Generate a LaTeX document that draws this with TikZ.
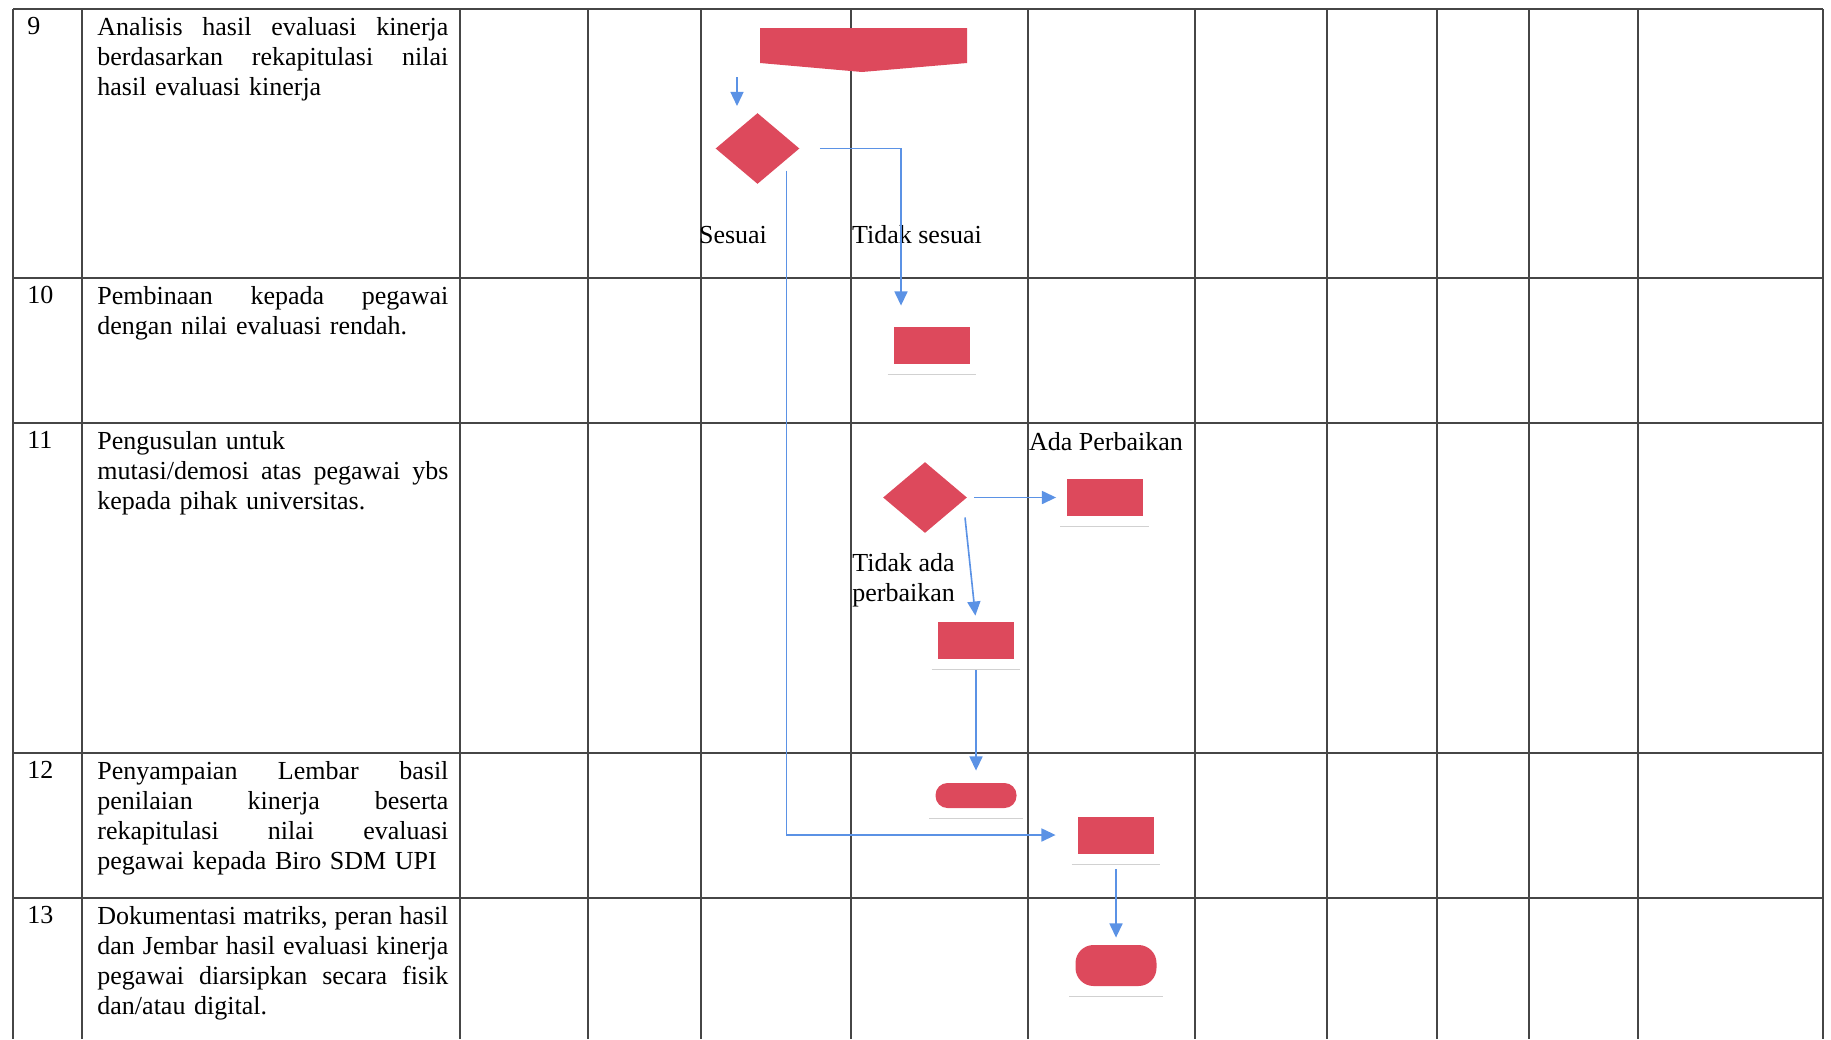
\documentclass[tikz,border=0pt]{standalone}
\usepackage{fontspec}
\setmainfont{Liberation Serif}
\usetikzlibrary{shapes.geometric}
\usetikzlibrary{arrows.meta}
\def\myunit{0.01622cm}
\def\mytextw{5.693cm}
\definecolor{flowred}{RGB}{221,73,92}
\definecolor{flowblue}{RGB}{91,146,229}
\definecolor{gridline}{RGB}{70,70,70}
\newcommand\myjust[1]{\makebox[\mytextw][s]{\spaceskip=0.25em plus 1fil\relax #1}\\}
\tikzset{
semithick, % All lines semithick
>={Triangle[length=6.5pt,width=6pt]}, % filled arrow tips
my font/.style={font=\fontsize{12}{13.85}\selectfont},
grid/.style={draw=gridline,line width=0.9pt},
desc/.style={my font,anchor=north west,inner sep=0pt,text width=\mytextw},
num/.style={my font,anchor=north west,inner sep=0pt},
lbl/.style={my font,inner sep=0pt},
box/.style={rectangle,fill=flowred,inner sep=0pt,minimum width=76*\myunit,minimum height=37*\myunit},
dec/.style={diamond,fill=flowred,inner sep=0pt,minimum width=84*\myunit,minimum height=71*\myunit},
term/.style={box,rounded corners=12*\myunit,minimum width=81*\myunit,minimum height=25*\myunit},
flow/.style={color=flowblue,line width=0.75pt,->},
reflect/.style={draw=black!18,line width=0.4pt}
}

\begin{document}
\begin{tikzpicture}[x=\myunit,y=-\myunit]
\useasboundingbox (0,0) rectangle (1831,1039);

% table
\foreach \x in {13,82,460,588,701,851,1028,1195,1327,1437,1529,1638,1823}
  \draw[grid] (\x,9) -- (\x,1039);
\foreach \y in {9,278,423,753,898}
  \draw[grid] (13,\y) -- (1823,\y);

\node[num] (n9)  at (27,17)  {9};
\node[num] (n10) at (27,286) {10};
\node[num] (n11) at (27,431) {11};
\node[num] (n12) at (27,761) {12};
\node[num] (n13) at (27,906) {13};

\node[desc] (s9)  at (97,17)  {\myjust{Analisis hasil evaluasi kinerja}\myjust{berdasarkan rekapitulasi nilai}hasil evaluasi kinerja};
\node[desc] (s10) at (97,286) {\myjust{Pembinaan kepada pegawai}dengan nilai evaluasi rendah.};
\node[desc] (s11) at (97,431) {Pengusulan untuk\\\myjust{mutasi/demosi atas pegawai ybs}kepada pihak universitas.};
\node[desc] (s12) at (97,761) {\myjust{Penyampaian Lembar basil}\myjust{penilaian kinerja beserta}\myjust{rekapitulasi nilai evaluasi}pegawai kepada Biro SDM UPI};
\node[desc] (s13) at (97,906) {\myjust{Dokumentasi matriks, peran hasil}\myjust{dan Jembar hasil evaluasi kinerja}\myjust{pegawai diarsipkan secara fisik}dan/atau digital.};

% flow
\fill[flowred] (760,28) -- (967,28) -- (967,63) -- (862,72) -- (760,63) -- cycle;
\coordinate (a0) at (737,77);
\coordinate (a1) at (737,106);

\node[dec]  (d1)   at (757.5,148.5) {};
\node[box]  (b10)  at (932,345.5)   {};
\node[dec]  (d2)   at (925,497.5)   {};
\node[box]  (b11a) at (1104.5,497.5) {};
\node[box]  (b11b) at (976,640.5)   {};
\node[term] (t12)  at (976,795.5)   {};
\node[box]  (b12)  at (1116,835)    {};
\node[term,minimum height=41*\myunit,rounded corners=18*\myunit] (t13) at (1116,965.5) {};

\node[lbl] (l1) at (733,235)  {Sesuai};
\node[lbl] (l2) at (917,235)  {Tidak sesuai};
\node[lbl] (l3) at (1106,442) {Ada Perbaikan};
\node[lbl,anchor=north west,align=left] (l4) at (852,553) {Tidak ada\\perbaikan};

\foreach \n in {b10,b11a,b11b,b12,t12,t13}
  \draw[reflect] ([shift={(-6,10)}]\n.south west) -- ([shift={(6,10)}]\n.south east);

\draw[flow] (a0) -- (a1);
\draw[flow,shorten <=20*\myunit,shorten >=21*\myunit] (d1.east) -| ([xshift=-31*\myunit]b10.north);
\draw[flow,shorten >=22*\myunit] ([shift={(29,22)}]d1.center) |- (b12.west);
\draw[flow,shorten >=6*\myunit] ([shift={(40,20)}]d2.center) -- (b11b.north);
\draw[flow,shorten <=7*\myunit,shorten >=10*\myunit] (d2.east) -- (b11a.west);
\draw[flow,shorten <=11*\myunit,shorten >=12*\myunit] (b11b.south) -- (t12.north);
\draw[flow,shorten <=15*\myunit,shorten >=7*\myunit] (b12.south) -- (t13.north);
\end{tikzpicture}
\end{document}
